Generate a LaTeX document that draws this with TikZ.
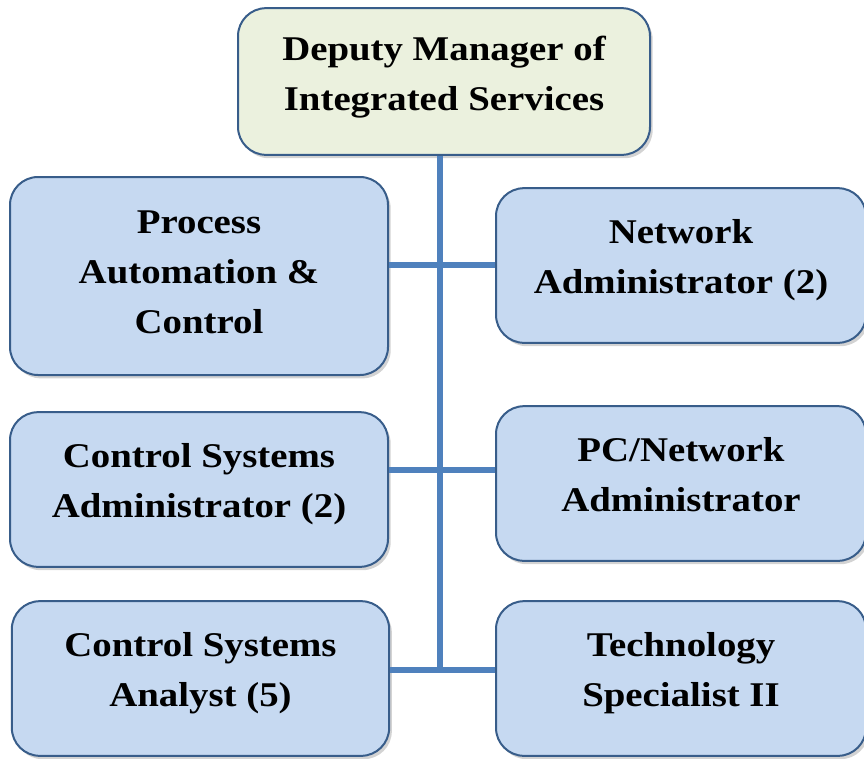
\documentclass[tikz,border=0pt]{standalone}
\usepackage{fontspec}
\setmainfont{Liberation Serif}[FakeStretch=1.12]
\usetikzlibrary{shadows, calc}

\begin{document}
\begin{tikzpicture}[x=0.75pt, y=-0.75pt]
    % Define styles for boxes and links
    \tikzset{
        unitbox/.style={draw=boxline, line width=1.5pt, fill=boxblue, rounded corners=21pt,
            align=center, inner sep=0pt, text depth=13pt,
            font=\fontsize{26}{37.5}\selectfont\bfseries,
            drop shadow={shadow xshift=2pt, shadow yshift=-2.5pt, opacity=0.35}},
        headbox/.style={unitbox, fill=headgreen},
        link/.style={draw=linkblue, line width=4.5pt}
    }
    \definecolor{boxblue}{RGB}{198,217,241}
    \definecolor{headgreen}{RGB}{235,241,222}
    \definecolor{boxline}{RGB}{56,93,138}
    \definecolor{linkblue}{RGB}{79,129,189}

    \useasboundingbox (0,0) rectangle (864,758);

    % ==========================================
    % CONNECTORS
    % ==========================================
    \coordinate (top) at (440,155);
    \coordinate (j1) at (440,265);
    \coordinate (j2) at (440,470);
    \coordinate (j3) at (440,670);

    % ==========================================
    % BOXES
    % ==========================================
    \node[headbox, minimum width=309pt, minimum height=110pt] (dep) at (444,81.5)
        {Deputy Manager of\\Integrated Services};

    % left column
    \node[unitbox, text depth=5.5pt, minimum width=283.5pt, minimum height=148.5pt] (proc) at (199,276)
        {Process\\Automation \&\\Control};
    \node[unitbox, minimum width=283.5pt, minimum height=116pt] (csadm) at (199,489.5)
        {Control Systems\\Administrator (2)};
    \node[unitbox, minimum width=283pt, minimum height=116pt] (csanl) at (200.5,678.5)
        {Control Systems\\Analyst (5)};

    % right column
    \node[unitbox, minimum width=277.5pt, minimum height=116pt] (netadm) at (681,265.5)
        {Network\\Administrator (2)};
    \node[unitbox, minimum width=277.5pt, minimum height=116pt] (pcadm) at (681,483.5)
        {PC/Network\\Administrator};
    \node[unitbox, minimum width=277.5pt, minimum height=116pt] (tech) at (681,678.5)
        {Technology\\Specialist II};

    % links from the trunk to each box
    \draw[link] (dep.south -| top) -- (j3);
    \draw[link] (proc.east |- j1) -- (netadm.west |- j1);
    \draw[link] (csadm.east |- j2) -- (pcadm.west |- j2);
    \draw[link] (csanl.east |- j3) -- (tech.west |- j3);

\end{tikzpicture}
\end{document}
